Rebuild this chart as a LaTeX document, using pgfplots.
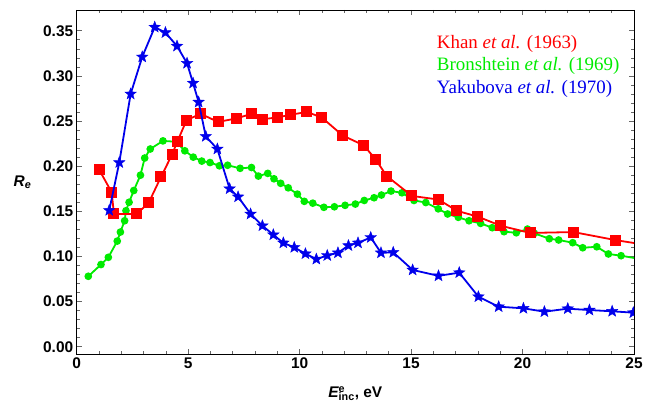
\documentclass[border=0pt]{standalone}
\usepackage{pgfplots}
\pgfplotsset{compat=1.18}
\usepackage{fontspec}
\setmainfont{Liberation Serif}
\newfontfamily\arial{Liberation Sans}
\definecolor{khanred}{RGB}{255,0,0}
\definecolor{brongreen}{RGB}{0,235,0}
\definecolor{yakblue}{RGB}{0,0,235}

% filled five-point star
\pgfdeclareplotmark{fstar}{%
  \pgfpathmoveto{\pgfpointpolar{90}{\pgfplotmarksize}}%
  \pgfpathlineto{\pgfpointpolar{126}{0.42\pgfplotmarksize}}%
  \pgfpathlineto{\pgfpointpolar{162}{\pgfplotmarksize}}%
  \pgfpathlineto{\pgfpointpolar{198}{0.42\pgfplotmarksize}}%
  \pgfpathlineto{\pgfpointpolar{234}{\pgfplotmarksize}}%
  \pgfpathlineto{\pgfpointpolar{270}{0.42\pgfplotmarksize}}%
  \pgfpathlineto{\pgfpointpolar{306}{\pgfplotmarksize}}%
  \pgfpathlineto{\pgfpointpolar{342}{0.42\pgfplotmarksize}}%
  \pgfpathlineto{\pgfpointpolar{18}{\pgfplotmarksize}}%
  \pgfpathlineto{\pgfpointpolar{54}{0.42\pgfplotmarksize}}%
  \pgfpathclose
  \pgfusepathqfillstroke
}

\begin{document}
\begin{tikzpicture}
\begin{axis}[
  scale only axis,
  width=557.3bp, height=344bp,
  xmin=0, xmax=25, ymin=-0.0081, ymax=0.373,
  xtick={0,5,10,15,20,25}, minor x tick num=4,
  ytick={0,0.05,0.1,0.15,0.2,0.25,0.3,0.35}, minor y tick num=4,
  tick align=inside,
  major tick length=5bp, minor tick length=3bp,
  axis line style={black, line width=0.8bp},
  tick style={black!60, line width=0.6bp},
  /pgf/number format/assume math mode=true,
  ticklabel style={font=\arial\bfseries\fontsize{15.5}{16}\selectfont},
  yticklabel style={/pgf/number format/.cd, fixed, fixed zerofill, precision=2},
  xticklabel style={/pgf/number format/fixed},
  xlabel={{\itshape E}\rlap{\textsuperscript{e}}\textsubscript{inc}, eV},
  ylabel={{\itshape R}\textsubscript{\itshape e}},
  label style={font=\arial\bfseries\fontsize{15.5}{18}\selectfont},
  xlabel style={yshift=-11bp},
  ylabel style={rotate=-90, xshift=-5bp},
  clip marker paths=true,
]
% Bronshtein et al. (1969)
\addplot[brongreen, line width=1.8bp, mark=*, mark size=2.9bp] coordinates {
(0.52,0.078) (1.09,0.091) (1.42,0.099) (1.82,0.117) (1.96,0.127) (2.15,0.1395)
(2.21,0.1506) (2.35,0.160) (2.56,0.173) (2.86,0.190) (3.05,0.209) (3.30,0.219)
(3.87,0.228) (4.47,0.227) (4.85,0.217) (5.23,0.210) (5.61,0.2056) (5.98,0.204)
(6.40,0.2004) (6.77,0.201) (7.33,0.1976) (7.84,0.1985) (8.15,0.189) (8.57,0.192)
(8.85,0.186) (9.15,0.181) (9.49,0.176) (9.90,0.169) (10.21,0.161) (10.59,0.159)
(11.09,0.1544) (11.56,0.155) (12.04,0.1566) (12.5,0.158) (12.9,0.162) (13.34,0.165)
(13.67,0.168) (14.1,0.1724) (14.59,0.1705) (15.13,0.162) (15.66,0.1597) (16.22,0.1527)
(16.64,0.147) (17.12,0.1433) (17.6,0.1395) (18.12,0.1366) (18.64,0.1318) (19.17,0.1274)
(19.72,0.1262) (20.22,0.1303) (20.53,0.1256) (21.2,0.1196) (21.62,0.1182) (22.25,0.1152)
(22.7,0.1096) (23.33,0.1107) (23.85,0.1027) (24.42,0.1008) (25.09,0.0979)
};
% Khan et al. (1963)
\addplot[khanred, line width=1.8bp, mark=square*, mark size=4.6bp] coordinates {
(1.01,0.196) (1.57,0.171) (1.67,0.147) (2.69,0.147) (3.23,0.1595) (3.78,0.188)
(4.28,0.213) (4.51,0.227) (4.93,0.251) (5.56,0.258) (6.34,0.249) (7.19,0.253)
(7.84,0.258) (8.33,0.252) (9.02,0.254) (9.6,0.257) (10.33,0.260) (10.99,0.254)
(11.93,0.234) (12.88,0.223) (13.41,0.2075) (13.91,0.189) (15.04,0.167) (16.23,0.163)
(17.05,0.1506) (18.0,0.144) (19.02,0.134) (20.34,0.126) (22.28,0.127) (24.19,0.118)
(26,0.111)
};
% Yakubova et al. (1970)
\addplot[yakblue, line width=1.8bp, mark=fstar, mark size=6bp,
  mark options={line width=0.4bp}] coordinates {
(1.46,0.151) (1.91,0.204) (2.42,0.280) (2.94,0.321) (3.50,0.354) (3.98,0.348)
(4.50,0.333) (4.95,0.314) (5.22,0.292) (5.47,0.271) (5.79,0.233) (6.31,0.219)
(6.86,0.175) (7.24,0.166) (7.80,0.147) (8.33,0.134) (8.82,0.124) (9.27,0.115)
(9.76,0.110) (10.26,0.103) (10.75,0.097) (11.24,0.101) (11.72,0.104) (12.19,0.112)
(12.62,0.115) (13.19,0.121) (13.65,0.104) (14.2,0.1045) (15.07,0.085) (16.23,0.0785)
(17.16,0.082) (18.02,0.0554) (18.93,0.0443) (20.04,0.0425) (20.98,0.0388) (22.03,0.0421)
(23.0,0.0406) (24.02,0.0392) (24.97,0.0377)
};
\node[anchor=base west, inner sep=0pt, text=khanred, font=\fontsize{19}{23}\selectfont]
  at (axis cs:16.15,0.3307) {Khan \textit{et al.} (1963)};
\node[anchor=base west, inner sep=0pt, text=brongreen, font=\fontsize{19}{23}\selectfont]
  at (axis cs:16.15,0.3059) {Bronshtein \textit{et al.} (1969)};
\node[anchor=base west, inner sep=0pt, text=yakblue, font=\fontsize{19}{23}\selectfont]
  at (axis cs:16.15,0.2809) {Yakubova \textit{et al.} (1970)};
\end{axis}
\pgfresetboundingbox
\path (-76.7bp,-53bp) rectangle (578.3bp,354bp);
\end{tikzpicture}
\end{document}
